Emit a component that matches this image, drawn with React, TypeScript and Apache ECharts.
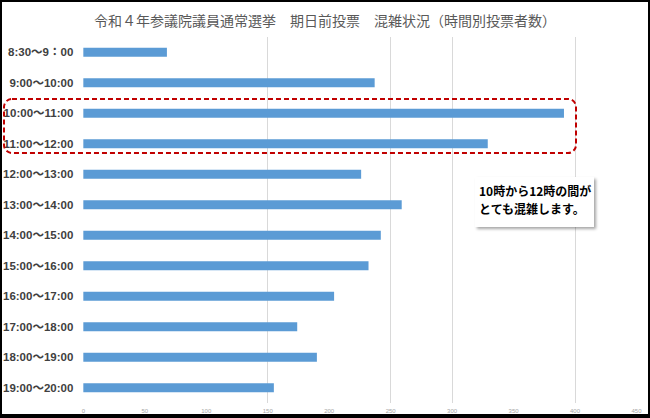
import { useEffect, useRef } from "react";
import * as echarts from "echarts";

// 時間帯（上から順に）
const timeSlots = [
  "8:30～9：00",
  "9:00～10:00",
  "10:00～11:00",
  "11:00～12:00",
  "12:00～13:00",
  "13:00～14:00",
  "14:00～15:00",
  "15:00～16:00",
  "16:00～17:00",
  "17:00～18:00",
  "18:00～19:00",
  "19:00～20:00",
];

// 時間別投票者数
const voterCounts = [68, 237, 391, 329, 226, 259, 242, 232, 204, 174, 190, 155];

// 横軸目盛り
const axisMin = 0;
const axisMax = 450;
const axisInterval = 50;

// 画像上で見えている縦のグリッド線
const visibleGridTicks = [150, 250, 300, 400];

const titleText = "令和４年参議院議員通常選挙　期日前投票　混雑状況（時間別投票者数）";
const noteText = "10時から12時の間が\nとても混雑します。";

const JP_FONT = "'Noto Sans CJK JP', 'Noto Sans', sans-serif";

const App = () => {
  const chartRef = useRef<HTMLDivElement>(null);

  useEffect(() => {
    if (!chartRef.current) {
      return;
    }
    const chart = echarts.init(chartRef.current, null, { renderer: "svg" });

    const option: echarts.EChartsOption = {
      animation: false,
      backgroundColor: "#FFFFFF",
      title: {
        text: titleText,
        left: "center",
        top: 8,
        textStyle: {
          color: "#595959",
          fontFamily: JP_FONT,
          fontSize: 14,
          fontWeight: "normal",
        },
      },
      grid: {
        top: 37,
        bottom: 15,
        left: 83,
        right: 13.5,
        containLabel: false,
      },
      xAxis: {
        type: "value",
        min: axisMin,
        max: axisMax,
        interval: axisInterval,
        axisLine: { show: false },
        axisTick: { show: false },
        splitLine: { show: false },
        axisLabel: {
          color: "#A6A6A6",
          fontSize: 6,
          margin: 5,
          fontFamily: "'Liberation Sans', sans-serif",
        },
      },
      yAxis: {
        type: "category",
        data: timeSlots,
        inverse: true,
        axisLine: { show: false },
        axisTick: { show: false },
        axisLabel: {
          color: "#404040",
          fontSize: 11.5,
          fontWeight: "bold",
          margin: 10,
          fontFamily: "'Liberation Sans', 'Noto Sans CJK JP', sans-serif",
        },
      },
      series: [
        {
          type: "bar",
          data: voterCounts,
          barWidth: 9,
          z: 3,
          itemStyle: { color: "#5B9BD5" },
          markLine: {
            z: 0,
            symbol: "none",
            silent: true,
            animation: false,
            label: { show: false },
            lineStyle: { color: "#D9D9D9", width: 1, type: "solid" },
            data: visibleGridTicks.map((v) => ({ xAxis: v })),
          },
        },
      ],
      graphic: [
        {
          type: "rect",
          z: 10,
          shape: { x: 4, y: 99, width: 572, height: 54, r: 8 },
          style: {
            fill: "none",
            stroke: "#C00000",
            lineWidth: 2,
            lineDash: [5, 3],
          },
        },
        {
          type: "rect",
          z: 10,
          shape: { x: 475, y: 177, width: 119, height: 50 },
          style: {
            fill: "#FFFFFF",
            shadowBlur: 3,
            shadowOffsetX: 2,
            shadowOffsetY: 2,
            shadowColor: "rgba(0,0,0,0.35)",
          },
        },
        {
          type: "text",
          z: 11,
          x: 479,
          y: 181,
          style: {
            text: noteText,
            fill: "#000000",
            font: `bold 12px ${JP_FONT}`,
            lineHeight: 18,
          },
        },
      ],
    };

    chart.setOption(option);

    return () => {
      chart.dispose();
    };
  }, []);

  return (
    <div
      style={{
        position: "fixed",
        left: 0,
        top: 0,
        width: 650,
        height: 418,
        background: "#FFFFFF",
      }}
    >
      <div ref={chartRef} style={{ position: "absolute", left: 0, top: 0, width: 650, height: 418 }} />
      <div
        style={{
          position: "absolute",
          left: 0,
          top: 0,
          width: 650,
          height: 418,
          boxSizing: "border-box",
          borderTop: "2px solid #000",
          borderLeft: "2px solid #000",
          borderRight: "2px solid #000",
          borderBottom: "4px solid #000",
          pointerEvents: "none",
        }}
      />
    </div>
  );
};

export default App;
